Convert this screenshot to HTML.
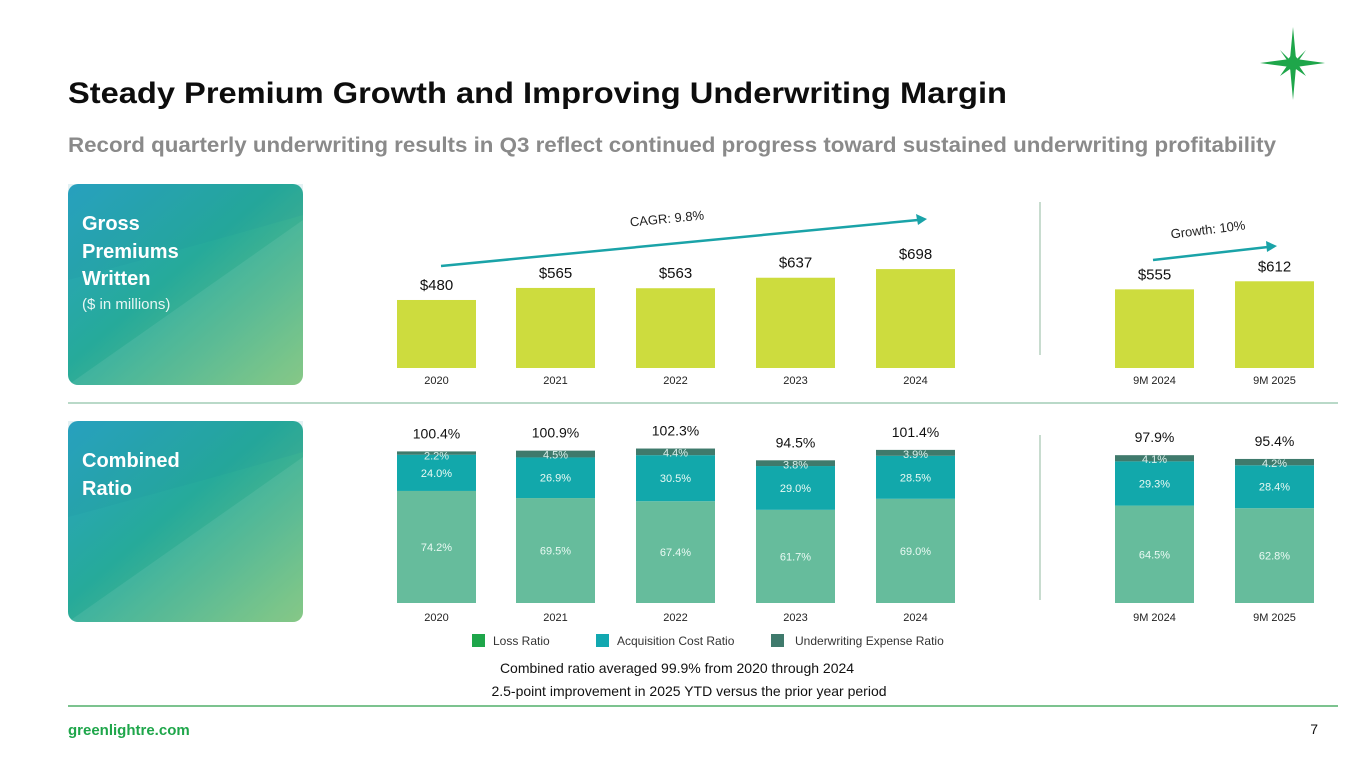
<!DOCTYPE html>
<html><head><meta charset="utf-8">
<style>
html,body{margin:0;padding:0;background:#fff;}
svg{display:block;font-family:"Liberation Sans",sans-serif;}
</style></head>
<body>
<svg id="s" width="1365" height="768" viewBox="0 0 1365 768" xmlns="http://www.w3.org/2000/svg">
<defs>
<linearGradient id="cg" x1="0" y1="0" x2="1" y2="1">
<stop offset="0" stop-color="#2aa3c4"/><stop offset="0.45" stop-color="#26aa9a"/><stop offset="1" stop-color="#7dc47c"/>
</linearGradient>
</defs>
<text x="68" y="103" font-size="30" font-weight="bold" fill="#0d0d0d" textLength="939" lengthAdjust="spacingAndGlyphs">Steady Premium Growth and Improving Underwriting Margin</text>
<text x="68" y="152" font-size="21" font-weight="bold" fill="#8a8a8a" textLength="1208" lengthAdjust="spacingAndGlyphs">Record quarterly underwriting results in Q3 reflect continued progress toward sustained underwriting profitability</text>
<g fill="#1ea64a">
<polygon points="1293,27 1296,59 1325,63 1296,67 1293,100 1290,67 1260,63 1290,59"/>
<polygon points="1293,63 1306,50 1297,63 1306,76 1293,67 1280,76 1289,63 1280,50"/>
<polygon points="1293,53 1301,63 1293,73 1285,63"/>
</g>
<g>
<rect x="68" y="184" width="235" height="201" rx="10" fill="url(#cg)"/>
<path d="M68,385 L303,220 L303,385 Z" fill="#ffffff" opacity="0.08"/>
<path d="M68,280 Q180,250 303,215 L303,184 L68,184 Z" fill="#1a8fa0" opacity="0.12"/>
<text x="82" y="230" font-size="20" font-weight="bold" fill="#fff">Gross</text>
<text x="82" y="258" font-size="20" font-weight="bold" fill="#fff">Premiums</text>
<text x="82" y="285" font-size="20" font-weight="bold" fill="#fff">Written</text>
<text x="82" y="309" font-size="15" fill="#e8f6f4">($ in millions)</text>
</g>
<g>
<rect x="68" y="421" width="235" height="201" rx="10" fill="url(#cg)"/>
<path d="M68,622 L303,457 L303,622 Z" fill="#ffffff" opacity="0.08"/>
<path d="M68,517 Q180,487 303,452 L303,421 L68,421 Z" fill="#1a8fa0" opacity="0.12"/>
<text x="82" y="467" font-size="20" font-weight="bold" fill="#fff">Combined</text>
<text x="82" y="495" font-size="20" font-weight="bold" fill="#fff">Ratio</text>
</g>
<line x1="68" y1="403" x2="1338" y2="403" stroke="#b9d9c8" stroke-width="2"/>
<line x1="1040" y1="202" x2="1040" y2="355" stroke="#c8dccf" stroke-width="2"/>
<line x1="1040" y1="435" x2="1040" y2="600" stroke="#c8dccf" stroke-width="2"/>
<g id="gpw"></g>
<g id="cr"></g>
<g>
<line x1="441" y1="266" x2="918" y2="220" stroke="#1aa3a8" stroke-width="2.5"/>
<polygon points="927,219 916,214 918,225" fill="#1aa3a8"/>
<text x="667" y="223" font-size="13" fill="#222" text-anchor="middle" transform="rotate(-5.5 667 219)">CAGR: 9.8%</text>
</g>
<g>
<line x1="1153" y1="260" x2="1268" y2="247" stroke="#1aa3a8" stroke-width="2.5"/>
<polygon points="1277,246 1266,241 1267,252" fill="#1aa3a8"/>
<text x="1208" y="234" font-size="13" fill="#222" text-anchor="middle" transform="rotate(-7 1208 230)">Growth: 10%</text>
</g>
<g font-size="12" fill="#333">
<rect x="472" y="634" width="13" height="13" fill="#1ea64a"/>
<text x="493" y="645">Loss Ratio</text>
<rect x="596" y="634" width="13" height="13" fill="#12a8b0"/>
<text x="617" y="645">Acquisition Cost Ratio</text>
<rect x="771" y="634" width="13" height="13" fill="#3f7a6c"/>
<text x="795" y="645">Underwriting Expense Ratio</text>
</g>
<text x="677" y="673" font-size="14" fill="#111" text-anchor="middle">Combined ratio averaged 99.9% from 2020 through 2024</text>
<text x="689" y="696" font-size="14" fill="#111" text-anchor="middle">2.5-point improvement in 2025 YTD versus the prior year period</text>
<line x1="68" y1="706" x2="1338" y2="706" stroke="#7cc38f" stroke-width="2"/>
<text x="68" y="735" font-size="15" font-weight="bold" fill="#1ea64a">greenlightre.com</text>
<text x="1318" y="734" font-size="14" fill="#111" text-anchor="end">7</text>
</svg>
<script>
const categories = ["2020","2021","2022","2023","2024","9M 2024","9M 2025"];
const gpwValues = [480,565,563,637,698,555,612];
const gpwLabels = ["$480","$565","$563","$637","$698","$555","$612"];
const lossRatio = [74.2,69.5,67.4,61.7,69.0,64.5,62.8];
const acqRatio = [24.0,26.9,30.5,29.0,28.5,29.3,28.4];
const uwRatio = [2.2,4.5,4.4,3.8,3.9,4.1,4.2];
const combinedTotals = [100.4,100.9,102.3,94.5,101.4,97.9,95.4];

const NS="http://www.w3.org/2000/svg";
const barLeft = [397,516,636,756,876,1115,1235];
const barW = 79;
function xBand(i){ return barLeft[i]; }
function yGpw(v){ return 368 - v*0.1417; }
function yCr(v){ return 603 - v*1.51; }
function mk(tag, attrs, parent, txt){
  const e=document.createElementNS(NS,tag);
  for(const k in attrs) e.setAttribute(k,attrs[k]);
  if(txt!==undefined) e.textContent=txt;
  parent.appendChild(e); return e;
}
const g1=document.getElementById("gpw");
const g2=document.getElementById("cr");
categories.forEach((c,i)=>{
  const x=xBand(i), cx=x+barW/2;
  const top=yGpw(gpwValues[i]);
  const b=mk("rect",{x:x,y:top,width:barW,height:368-top,fill:"#cddc3e"},g1);
  
  
  const t=mk("text",{x:cx,y:top-10,"font-size":15,fill:"#111","text-anchor":"middle"},g1,gpwLabels[i]);
  
  
  const yl=mk("text",{x:cx,y:384,"font-size":11,fill:"#222","text-anchor":"middle"},g1,c);
  
  

  const l=lossRatio[i], a=acqRatio[i], u=uwRatio[i];
  const yL=yCr(l), yA=yCr(l+a), yU=yCr(l+a+u);
  const r1=mk("rect",{x:x,y:yL,width:barW,height:603-yL,fill:"#66bc9c"},g2);
  
  
  const r2=mk("rect",{x:x,y:yA,width:barW,height:yL-yA,fill:"#12a8ab"},g2);
  
  
  const r3=mk("rect",{x:x,y:yU,width:barW,height:yA-yU,fill:"#3f7a6c"},g2);
  
  
  const t1=mk("text",{x:cx,y:(yL+603)/2+4,"font-size":11,fill:"#eafaf4","text-anchor":"middle"},g2,l.toFixed(1)+"%");
  
  
  const t2=mk("text",{x:cx,y:(yA+yL)/2+4,"font-size":11,fill:"#eafaf4","text-anchor":"middle"},g2,a.toFixed(1)+"%");
  
  
  const t3=mk("text",{x:cx,y:yU+8,"font-size":11,fill:"#d8eeea","text-anchor":"middle"},g2,u.toFixed(1)+"%");
  
  
  const tt=mk("text",{x:cx,y:yU-13,"font-size":14,fill:"#111","text-anchor":"middle"},g2,combinedTotals[i].toFixed(1)+"%");
  
  
  const yl2=mk("text",{x:cx,y:621,"font-size":11,fill:"#222","text-anchor":"middle"},g2,c);
  
  
});
</script>
</body></html>
